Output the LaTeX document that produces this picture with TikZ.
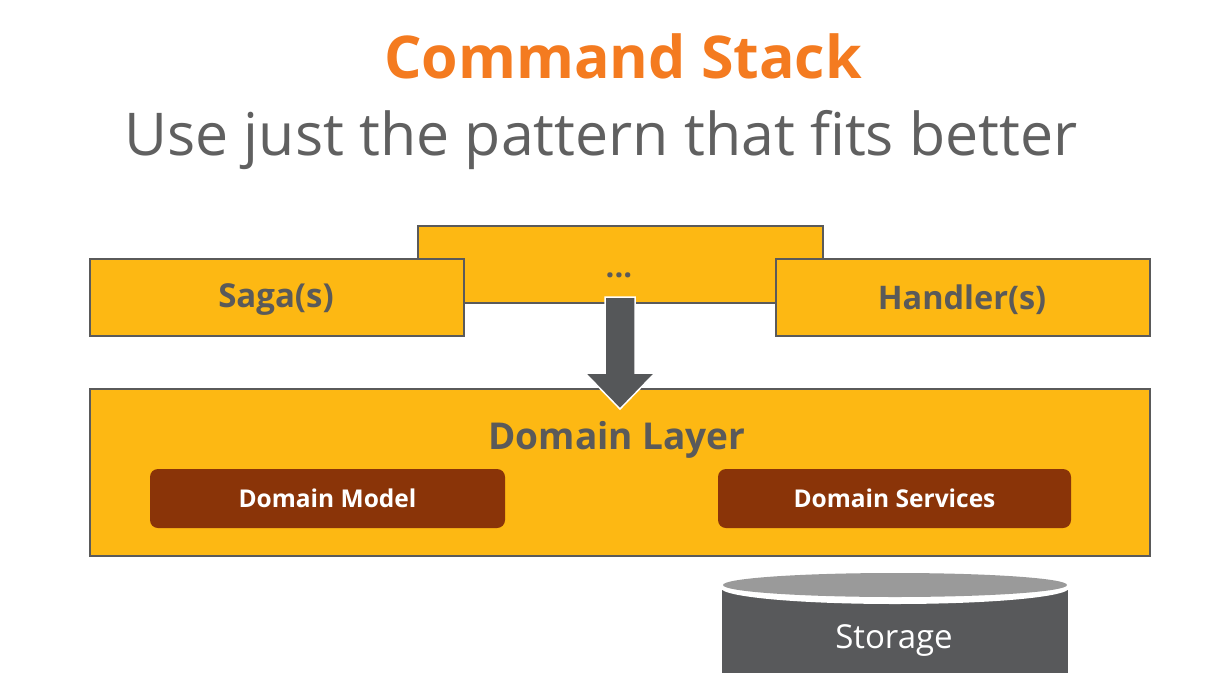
\documentclass[tikz,border=0pt]{standalone}
\usepackage{fontspec}
\setmainfont{Open Sans}
\definecolor{boxfill}{HTML}{FDB813}
\definecolor{boxline}{HTML}{5A5A5A}
\definecolor{titleor}{HTML}{F47B20}
\definecolor{subgray}{HTML}{606060}
\definecolor{rust}{HTML}{8A3408}
\definecolor{arrowgray}{HTML}{555759}
\definecolor{dbbody}{HTML}{58595B}
\definecolor{dbtop}{HTML}{9A9A9A}
\tikzset{
  layerbox/.style={draw=boxline, line width=2pt, fill=boxfill, inner sep=0pt},
  layerlabel/.style={text=boxline, inner sep=0pt},
  partbox/.style={fill=rust, rounded corners=8pt, inner sep=0pt,
    text=white, font=\bfseries\fontsize{24.5}{28}\selectfont},
}
\begin{document}
\begin{tikzpicture}[x=1pt,y=-1pt]
\useasboundingbox[fill=white] (0,0) rectangle (1228,672);

% headings
\node[text=titleor, font=\bfseries\fontsize{59}{66}\selectfont, anchor=base] (title) at (623,78) {Command Stack};
\node[text=subgray, font=\fontsize{59}{66}\selectfont, anchor=base] (subtitle) at (601,155) {Use just the pattern that fits better};

% upper row of boxes
\node[layerbox, minimum width=405pt, minimum height=77pt] (more) at (620.5,264.5) {};
\node[layerlabel, font=\bfseries\fontsize{31}{34}\selectfont] (dots) at (619,275) {...};
\node[layerbox, minimum width=374pt, minimum height=77pt] (saga) at (277,297.5) {};
\node[layerlabel, font=\bfseries\fontsize{33}{38}\selectfont] (sagatext) at (276,300) {Saga(s)};
\node[layerbox, minimum width=374pt, minimum height=77pt] (handler) at (963,297.5) {};
\node[layerlabel, font=\bfseries\fontsize{32.5}{38}\selectfont] (handlertext) at (962,300) {Handler(s)};

% domain layer
\node[layerbox, minimum width=1060pt, minimum height=167pt] (domain) at (620,472.5) {};
\node[layerlabel, font=\bfseries\fontsize{37}{42}\selectfont] (domtitle) at (617,440) {Domain Layer};
\node[partbox, minimum width=355pt, minimum height=59pt] (model) at (327.5,498.5) {Domain Model};
\node[partbox, minimum width=353pt, minimum height=59pt] (services) at (894.5,498.5) {Domain Services};

% block arrow from the upper row into the domain layer
\coordinate (tail) at (620,297);
\coordinate (tip) at (620,409);
\fill[arrowgray, draw=white, line width=1.5pt]
  ([xshift=-15pt]tail) -- ([xshift=15pt]tail) -- ([xshift=15pt,yshift=36pt]tip)
  -- ([xshift=35pt,yshift=36pt]tip) -- (tip) -- ([xshift=-35pt,yshift=36pt]tip)
  -- ([xshift=-15pt,yshift=36pt]tip) -- cycle;

% storage cylinder
\fill[dbbody] (722,586) rectangle (1068,680);
\fill[white] (895,588) ellipse [x radius=174pt, y radius=16pt];
\fill[dbtop] (895,585) ellipse [x radius=172pt, y radius=12pt];
\node[text=white, inner sep=0pt, font=\fontsize{33}{38}\selectfont] (storage) at (894,641) {Storage};
\end{tikzpicture}
\end{document}
